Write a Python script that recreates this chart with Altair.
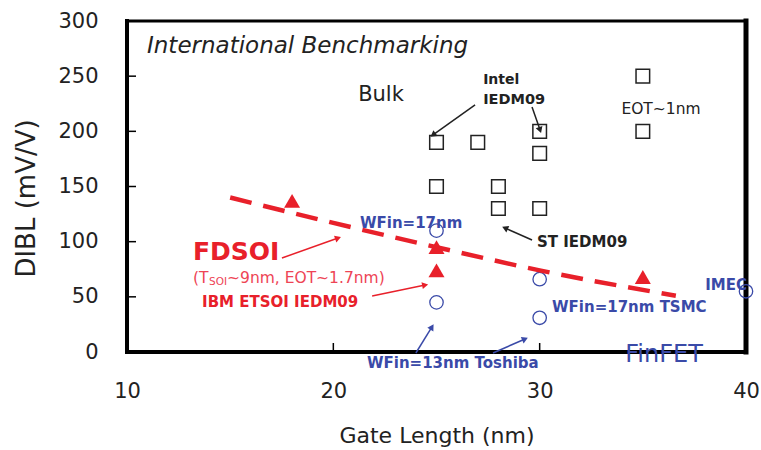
import math
import altair as alt
import pandas as pd

# ---- data -------------------------------------------------------------
# Bulk MOSFETs (open squares)
bulk_len = [25, 27, 30, 30, 25, 28, 28, 30, 35, 35]
bulk_dibl = [190, 190, 200, 180, 150, 150, 130, 130, 250, 200]
# FDSOI devices (filled triangles)
fdsoi_len = [18, 25, 25, 35]
fdsoi_dibl = [137, 95, 74, 68]
# FinFET devices (open circles)
finfet_len = [25, 25, 30, 30, 40]
finfet_dibl = [110, 45, 66, 31, 55]
# FDSOI trend guide (dashed)
trend_len = [15, 20, 25, 30, 36.6]
trend_dibl = [140, 117, 95, 74, 51]

x_ticks = [10, 20, 30, 40]
y_ticks = [0, 50, 100, 150, 200, 250, 300]
x_inner_ticks = [20, 30]
y_inner_ticks = [50, 100, 150, 200, 250]

# annotation arrows: start -> end (data units)
arrow_x1 = [26.87, 29.63, 29.63, 17.51, 21.88, 24.0, 27.74]
arrow_y1 = [223.9, 222.1, 101.5, 85.2, 50.8, -0.9, -0.9]
arrow_x2 = [24.83, 30.02, 28.32, 20.23, 24.45, 24.78, 29.29]
arrow_y2 = [196.7, 201.2, 112.4, 103.3, 60.7, 22.7, 11.8]
arrow_col = ["#222222", "#222222", "#222222", "#e8202a", "#e8202a", "#3a4aa8", "#3a4aa8"]

W, H = 619, 331
X_DOM = [10, 40]
Y_DOM = [0, 300]
FONT = "DejaVu Sans"
BLUE = "#3a4aa8"
RED = "#e8202a"
INK = "#222222"

xs = alt.Scale(domain=X_DOM, nice=False, zero=False)
ys = alt.Scale(domain=Y_DOM, nice=False, zero=False)

# identical axis definitions in every layer so they merge into one
x_axis = alt.Axis(values=x_ticks, title="Gate Length (nm)")
y_axis = alt.Axis(values=y_ticks, title="DIBL (mV/V)")


def X(field):
    return alt.X(field, type="quantitative", scale=xs, axis=x_axis)


def Y(field):
    return alt.Y(field, type="quantitative", scale=ys, axis=y_axis)


# ---- frame and inward ticks -----------------------------------------------
frame = pd.DataFrame({
    "x": [10, 10, 10, 40],
    "x2": [10, 40, 40, 40],
    "y": [0, 0, 300, 0],
    "y2": [300, 0, 300, 300],
    "w": [4, 4, 3, 5],
})
frame_layer = alt.Chart(frame).mark_rule(color="black", strokeCap="square").encode(
    x=X("x"), x2="x2:Q", y=Y("y"), y2="y2:Q",
    strokeWidth=alt.StrokeWidth("w:Q", scale=None),
)

ytick_layer = alt.Chart(pd.DataFrame({"v": y_inner_ticks})).mark_rule(
    color="black", strokeWidth=1.5
).encode(x=alt.value(0), x2=alt.value(9), y=Y("v"))

xtick_layer = alt.Chart(pd.DataFrame({"v": x_inner_ticks})).mark_rule(
    color="black", strokeWidth=1.5
).encode(x=X("v"), y=alt.value(H), y2=alt.value(H - 9))

# ---- series ----------------------------------------------------------------
bulk_layer = alt.Chart(pd.DataFrame({"L": bulk_len, "D": bulk_dibl})).mark_point(
    shape="square", size=185, filled=False, color=INK, strokeWidth=1.5, opacity=1
).encode(x=X("L"), y=Y("D"))

finfet_layer = alt.Chart(pd.DataFrame({"L": finfet_len, "D": finfet_dibl})).mark_point(
    shape="circle", size=180, filled=False, color=BLUE, strokeWidth=1.3, opacity=1
).encode(x=X("L"), y=Y("D"))

trend_layer = alt.Chart(pd.DataFrame({"L": trend_len, "D": trend_dibl})).mark_line(
    color=RED, strokeWidth=4.5, strokeDash=[22, 12], interpolate="monotone"
).encode(x=X("L"), y=Y("D"))

fdsoi_layer = alt.Chart(pd.DataFrame({"L": fdsoi_len, "D": fdsoi_dibl})).mark_point(
    shape="triangle-up", size=256, filled=True, color=RED, opacity=1
).encode(x=X("L"), y=Y("D"))

# ---- arrows ----------------------------------------------------------------
kx = W / (X_DOM[1] - X_DOM[0])
ky = H / (Y_DOM[1] - Y_DOM[0])
arrows = pd.DataFrame({
    "x1": arrow_x1, "y1": arrow_y1, "x2": arrow_x2, "y2": arrow_y2, "c": arrow_col,
})
arrows["ang"] = [
    math.degrees(math.atan2((b - a) * kx, (d - c) * ky)) % 360
    for a, b, c, d in zip(arrow_x1, arrow_x2, arrow_y1, arrow_y2)
]
arrow_lines = alt.Chart(arrows).mark_rule(strokeWidth=1.5).encode(
    x=X("x1"), y=Y("y1"), x2="x2:Q", y2="y2:Q",
    color=alt.Color("c:N", scale=None),
)
arrow_heads = alt.Chart(arrows).mark_point(
    shape="triangle-up", size=50, filled=True, opacity=1
).encode(
    x=X("x2"), y=Y("y2"),
    color=alt.Color("c:N", scale=None),
    angle=alt.Angle("ang:Q", scale=None),
)


# ---- labels ----------------------------------------------------------------
def label(text, x, y, color, size, weight="normal", style="normal",
          align="left", dx=0, dy=0):
    df = pd.DataFrame({"t": [text], "x": [x], "y": [y]})
    return alt.Chart(df).mark_text(
        font=FONT, fontSize=size, fontWeight=weight, fontStyle=style,
        color=color, align=align, baseline="middle", dx=dx, dy=dy,
    ).encode(x=X("x"), y=Y("y"), text="t:N")


labels = [
    label("International Benchmarking", 10.97, 277.3, INK, 23, style="italic"),
    label("Bulk", 22.31, 232.9, INK, 21, align="center"),
    label("Intel", 27.26, 246.5, INK, 14, weight="bold"),
    label("IEDM09", 27.26, 228.4, INK, 14.5, weight="bold"),
    label("EOT~1nm", 35.88, 220.2, INK, 15.5, align="center"),
    label("ST IEDM09", 29.87, 99.7, INK, 15, weight="bold"),
    label("FDSOI", 13.2, 90.6, RED, 25, weight="bold"),
    label("(T", 13.2, 67.1, "#ee4455", 15.5),
    label("SOI", 13.2, 67.1, "#ee4455", 10.5, dx=16, dy=4),
    label("~9nm, EOT~1.7nm)", 13.2, 67.1, "#ee4455", 15.5, dx=34),
    label("IBM ETSOI IEDM09", 13.64, 45.3, RED, 15, weight="bold"),
    label("WFin=17nm", 21.29, 116.9, BLUE, 15, weight="bold"),
    label("WFin=17nm TSMC", 30.6, 40.8, BLUE, 15, weight="bold"),
    label("IMEC", 38.02, 60.7, BLUE, 15, weight="bold"),
    label("WFin=13nm Toshiba", 21.63, -10, BLUE, 15, weight="bold"),
    label("FinFET", 36.03, -2.7, BLUE, 24, align="center"),
]

chart = alt.layer(
    frame_layer, ytick_layer, xtick_layer,
    bulk_layer, finfet_layer, trend_layer, fdsoi_layer,
    arrow_lines, arrow_heads, *labels,
).properties(
    width=W, height=H,
    autosize=alt.AutoSizeParams(type="none"),
    padding={"left": 127, "top": 21, "right": 15, "bottom": 98},
    background="white",
).configure_view(
    stroke=None
).configure_axis(
    domain=False, ticks=False, grid=False, labelFlush=False,
    labelFont=FONT, labelFontSize=21, labelColor=INK,
    titleFont=FONT, titleFontWeight="normal", titleColor=INK,
).configure_axisX(
    labelPadding=28, titleFontSize=22, titlePadding=24,
).configure_axisY(
    labelPadding=29, titleFontSize=26, titlePadding=18, titleY=177,
)

chart.save("out.html", embed_options={"renderer": "svg", "actions": False})
